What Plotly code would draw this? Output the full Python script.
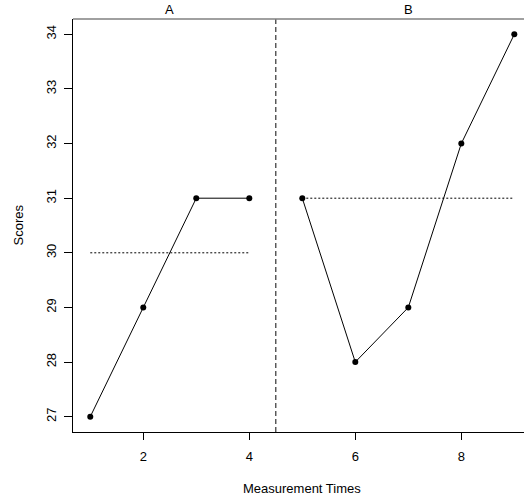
import plotly.graph_objects as go

# Measurement times and scores for each phase
times_a = [1, 2, 3, 4]
scores_a = [27, 29, 31, 31]
times_b = [5, 6, 7, 8, 9]
scores_b = [31, 28, 29, 32, 34]

phase_labels = ["A", "B"]
phase_centers = [2.5, 7]
phase_split = 4.5

# Phase medians, drawn as dotted reference lines
median_a = 30
median_b = 31

y_ticks = [27, 28, 29, 30, 31, 32, 33, 34]
x_ticks = [2, 4, 6, 8]

FONT = "Liberation Sans, Arial, Helvetica, sans-serif"

fig = go.Figure()

for xs, ys in [(times_a, scores_a), (times_b, scores_b)]:
    fig.add_trace(go.Scatter(
        x=xs, y=ys, mode="lines+markers",
        line=dict(color="black", width=1),
        marker=dict(color="black", size=6),
        showlegend=False, hoverinfo="skip",
    ))

for xs, med in [(times_a, median_a), (times_b, median_b)]:
    fig.add_trace(go.Scatter(
        x=[xs[0], xs[-1]], y=[med, med], mode="lines",
        line=dict(color="black", width=1, dash="2px,2px"),
        showlegend=False, hoverinfo="skip",
    ))

# Phase change line
fig.add_shape(type="line", xref="x", yref="paper",
              x0=phase_split, x1=phase_split, y0=0, y1=1,
              line=dict(color="#333333", width=1.2, dash="5px,3px"))

# Top border line
fig.add_shape(type="line", xref="paper", yref="paper",
              x0=0, x1=1, y0=1, y1=1,
              line=dict(color="#808080", width=1.5))

for lab, cx in zip(phase_labels, phase_centers):
    fig.add_annotation(x=cx, xref="x", y=1, yref="paper",
                       text=lab, showarrow=False, yanchor="bottom", yshift=0,
                       font=dict(family=FONT, size=13, color="black"))

fig.add_annotation(x=5, xref="x", y=0, yref="paper", text="Measurement Times",
                   showarrow=False, yanchor="middle", yshift=-56,
                   font=dict(family=FONT, size=13, color="black"))
fig.add_annotation(x=0, xref="paper", xshift=-55, y=0.5, yref="paper", text="Scores",
                   showarrow=False, textangle=-90, xanchor="center",
                   font=dict(family=FONT, size=13, color="black"))

fig.update_xaxes(range=[0.674, 9.183], tickvals=x_ticks, ticks="outside",
                 ticklen=7, tickcolor="black", tickwidth=1,
                 showline=True, linecolor="black", linewidth=1.2,
                 showgrid=False, zeroline=False, mirror=False,
                 tickfont=dict(family=FONT, size=13, color="black"),
                 ticklabelstandoff=5)
fig.update_yaxes(range=[26.72, 34.28], tickvals=y_ticks, ticks="outside",
                 ticklen=8, tickcolor="black", tickwidth=1,
                 showline=True, linecolor="black", linewidth=1.2,
                 showgrid=False, zeroline=False, tickangle=-90,
                 tickfont=dict(family=FONT, size=13, color="black"),
                 ticklabelstandoff=3)

fig.update_layout(width=524, height=501,
                  margin=dict(l=73, r=0, t=19, b=69),
                  plot_bgcolor="white", paper_bgcolor="white")

fig.write_html("out.html")
